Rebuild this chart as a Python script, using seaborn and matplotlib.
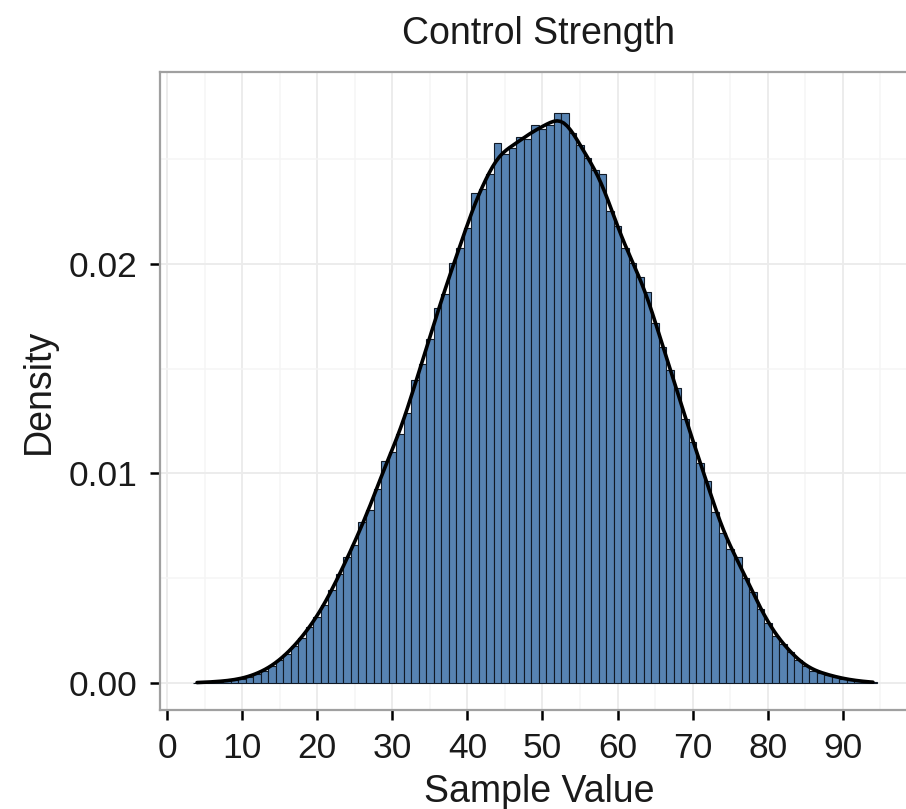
import numpy as np
import pandas as pd
import matplotlib
matplotlib.use("Agg")
import matplotlib.pyplot as plt
from matplotlib.ticker import MultipleLocator, FixedLocator
import seaborn as sns

# ---- data (bin centre -> density) ----
bin_centers = list(range(4, 95))
bin_density = [
    0.00002, 0.00003, 0.00005, 0.00007, 0.00010, 0.00015, 0.00020, 0.00030, 0.00045, 0.00060,   # 4-13
    0.00080, 0.00110, 0.00140, 0.00180, 0.00220, 0.00270, 0.00320, 0.00380, 0.00450, 0.00530,   # 14-23
    0.00610, 0.00670, 0.00780, 0.00840, 0.00940, 0.01080, 0.01120, 0.01210, 0.01310, 0.01470,   # 24-33
    0.01550, 0.01670, 0.01820, 0.01890, 0.02040, 0.02110, 0.02210, 0.02380, 0.02400, 0.02470,   # 34-43
    0.02620, 0.02570, 0.02600, 0.02650, 0.02640, 0.02710, 0.02690, 0.02710, 0.02770, 0.02770,   # 44-53
    0.02670, 0.02610, 0.02550, 0.02490, 0.02470, 0.02290, 0.02220, 0.02110, 0.02040, 0.01970,   # 54-63
    0.01900, 0.01750, 0.01630, 0.01520, 0.01430, 0.01280, 0.01170, 0.01070, 0.00980, 0.00830,   # 64-73
    0.00730, 0.00650, 0.00610, 0.00510, 0.00440, 0.00360, 0.00290, 0.00230, 0.00190, 0.00150,   # 74-83
    0.00110, 0.00080, 0.00060, 0.00050, 0.00040, 0.00030, 0.00020, 0.00015, 0.00010, 0.00006,   # 84-93
    0.00003,                                                                                    # 94
]
x_ticks = [0, 10, 20, 30, 40, 50, 60, 70, 80, 90]
y_ticks = [0.00, 0.01, 0.02]
y_tick_labels = ["0.00", "0.01", "0.02"]
title = "Control Strength"
x_label = "Sample Value"
y_label = "Density"

df = pd.DataFrame({"value": bin_centers, "w": bin_density})

sns.set_theme(style="white")
plt.rcParams["font.family"] = ["Liberation Sans", "DejaVu Sans"]

fig = plt.figure(figsize=(9.06, 8.09), dpi=100)
W, H = 906, 809
left_px, right_px, top_px, bottom_px = 160, 918, 72, 710
ax = fig.add_axes([left_px / W, (H - bottom_px) / H,
                   (right_px - left_px) / W, (bottom_px - top_px) / H])

sns.histplot(data=df, x="value", weights="w", binwidth=1.0, binrange=(3.5, 94.5),
             stat="density",
             color="#5783b2", edgecolor="#111a26", linewidth=0.8, alpha=1.0,
             ax=ax, zorder=2)
sns.kdeplot(data=df, x="value", weights="w", bw_adjust=0.22, cut=0,
            color="black", linewidth=2.6, ax=ax, zorder=3)

ax.set_xlim(-0.93, 100.0)
ax.set_ylim(-0.00129, 0.02916)

ax.xaxis.set_major_locator(FixedLocator(x_ticks))
ax.xaxis.set_minor_locator(MultipleLocator(5))
ax.yaxis.set_major_locator(FixedLocator(y_ticks))
ax.yaxis.set_minor_locator(MultipleLocator(0.005))
ax.set_yticklabels(y_tick_labels)

ax.grid(True, which="major", color="#ebebeb", linewidth=1.3, zorder=0)
ax.grid(True, which="minor", color="#f5f5f5", linewidth=1.1, zorder=0)
ax.set_axisbelow(True)

for s in ["left", "bottom", "top"]:
    ax.spines[s].set_visible(True)
    ax.spines[s].set_color("#a0a0a0")
    ax.spines[s].set_linewidth(1.6)
ax.spines["right"].set_visible(False)

ax.tick_params(axis="both", which="major", direction="out", length=7, width=1.8,
               color="black", labelsize=25.5, labelcolor="#1a1a1a", pad=9,
               bottom=True, left=True)
ax.tick_params(axis="both", which="minor", length=0)

ax.set_xlabel(x_label, fontsize=27, color="#1a1a1a", labelpad=6)
ax.set_ylabel(y_label, fontsize=27, color="#1a1a1a", labelpad=9)
ax.set_title(title, fontsize=27, color="#1a1a1a", pad=20)

fig.savefig("out.png", dpi=100)
